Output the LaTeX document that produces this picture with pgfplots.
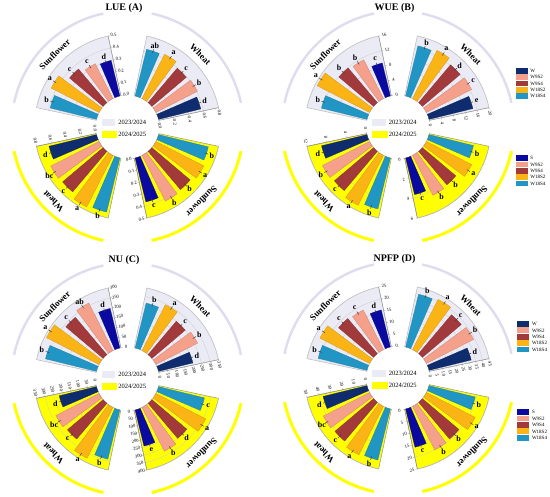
\documentclass[border=0pt]{standalone}
\usepackage{fontspec}
\setmainfont{Liberation Serif}
\usepackage{pgfplots}
\pgfplotsset{compat=1.18}

\definecolor{cW}{HTML}{0E2C6E}
\definecolor{cS}{HTML}{0A0AA0}
\definecolor{c92}{HTML}{F4A08A}
\definecolor{c94}{HTML}{A23A3C}
\definecolor{c182}{HTML}{FBB416}
\definecolor{c184}{HTML}{2196C4}
\definecolor{lav}{HTML}{EBEBF5}
\definecolor{lavarc}{HTML}{DDDDEF}
\definecolor{yel}{HTML}{FFFF00}

\def\Rz{32}\def\Ro{93}\def\Hw{4.8}

\pgfplotsset{panel/.style={hide axis, x=1pt, y=1pt, xmin=-137, xmax=137,
  ymin=-124, ymax=124, anchor=center, clip=false}}

% #1 sector start angle, #2 bar index, #3 value, #4 radial axis max, #5 colour, #6 letter
\newcommand{\Bar}[6]{%
 \addplot[fill=#5, draw=#5!80!black, line width=0.2pt] table[row sep=\\,
   x expr={(\Rz+\thisrow{f}*(#3)/(#4)*(\Ro-\Rz))*cos(#1+6.6+13.2*#2+(\thisrow{t})*\Hw)},
   y expr={(\Rz+\thisrow{f}*(#3)/(#4)*(\Ro-\Rz))*sin(#1+6.6+13.2*#2+(\thisrow{t})*\Hw)}]
   {t f\\ -1 0\\ -1 1\\ -0.5 1\\ 0 1\\ 0.5 1\\ 1 1\\ 1 0\\ 0 0\\} -- cycle;
 \draw[black!75, line width=0.5pt]
   ({(\Rz+(#3)/(#4)*(\Ro-\Rz)-1.8)*cos(#1+6.6+13.2*#2)},{(\Rz+(#3)/(#4)*(\Ro-\Rz)-1.8)*sin(#1+6.6+13.2*#2)})
   -- ({(\Rz+(#3)/(#4)*(\Ro-\Rz)+1.8)*cos(#1+6.6+13.2*#2)},{(\Rz+(#3)/(#4)*(\Ro-\Rz)+1.8)*sin(#1+6.6+13.2*#2)});
 \node[font=\bfseries\fontsize{8}{8}\selectfont, inner sep=0pt]
   at ({(\Rz+(#3)/(#4)*(\Ro-\Rz)+5.8)*cos(#1+6.6+13.2*#2)},{(\Rz+(#3)/(#4)*(\Ro-\Rz)+5.8)*sin(#1+6.6+13.2*#2)}) {#6};
}

\newcommand{\SecBg}[3]{%
 \filldraw[fill=#2, draw=#3, line width=0.5pt] (#1:\Rz) arc[start angle=#1, end angle={#1+66}, radius=\Rz pt]
   -- ({#1+66}:\Ro) arc[start angle={#1+66}, end angle=#1, radius=\Ro pt] -- cycle;}

% #1 start, #2 intervals, #3 label rotation, #4 labels
\newcommand{\SecGrid}[4]{%
 \foreach \lab [count=\k from 0] in {#4} {%
   \pgfmathsetmacro\r{\Rz+\k*(\Ro-\Rz)/#2}%
   \draw[gray!40, line width=0.3pt] (#1:\r) arc[start angle=#1, end angle={#1+66}, radius=\r pt];%
   \draw[gray!80, line width=0.3pt] (#1:\r) -- ++({#1-90}:1.6);%
   \node[font=\fontsize{4.6}{5}\selectfont, rotate=#3, inner sep=0pt] at ([shift={({#1-90}:5.4)}]#1:\r) {\lab};%
 }%
 \draw[gray!85, line width=0.4pt] (#1:\Rz) -- (#1:\Ro);}

\newcommand{\Frame}[1]{%
 \SecBg{102}{lav}{gray!55}
 \SecBg{12}{lav}{gray!55}
 \SecBg{192}{yel}{gray!85}
 \SecBg{282}{yel}{gray!85}
 \draw[lavarc, line width=2.4pt] (102:116) arc[start angle=102, end angle=168, radius=116pt];
 \draw[lavarc, line width=2.4pt] (12:116) arc[start angle=12, end angle=78, radius=116pt];
 \draw[yel, line width=3pt] (192:116) arc[start angle=192, end angle=258, radius=116pt];
 \draw[yel, line width=3pt] (282:116) arc[start angle=282, end angle=348, radius=116pt];
 \node[font=\bfseries\fontsize{9}{10}\selectfont, rotate=45] at (135:103) {Sunflower};
 \node[font=\bfseries\fontsize{9}{10}\selectfont, rotate=-45] at (45:103) {Wheat};
 \node[font=\bfseries\fontsize{9}{10}\selectfont, rotate=135] at (225:105) {Wheat};
 \node[font=\bfseries\fontsize{9}{10}\selectfont, rotate=-135] at (315:105) {Sunflower};
 \fill[lav] (-25.8,0.7) rectangle (-12.5,8.3);
 \node[font=\fontsize{6.5}{7}\selectfont] at (4.7,4.6) {2023/2024};
 \fill[yel] (-25.8,-3.7) rectangle (-10.2,-11);
 \node[font=\fontsize{6.5}{7}\selectfont] at (4.7,-7.4) {2024/2025};
 \node[font=\bfseries\fontsize{10}{12}\selectfont] at (-3.5,119) {#1};
}

% #1 box left x, #2 first row y, #3 spacing, #4 first label, #5 first colour
\newcommand{\Leg}[5]{%
 \foreach \c/\t [count=\i from 0] in {#5/#4, c92/W9S2, c94/W9S4, c182/W18S2, c184/W18S4} {%
   \fill[\c] (#1,{#2-\i*#3-2.9}) rectangle ({#1+12},{#2-\i*#3+2.9});%
   \node[anchor=west, font=\fontsize{5}{5}\selectfont, inner sep=0pt] at ({#1+14.5},{#2-\i*#3}) {\t};%
 }}

\begin{document}
\begin{tikzpicture}[x=1pt,y=1pt]
\useasboundingbox (0,0) rectangle (550,497);
\fill[white] (0,0) rectangle (550,497);

% ---------- Panel A ----------
\begin{scope}[shift={(127.5,370)}]
 \Frame{LUE (A)}
 \SecGrid{102}{5}{12}{0.0,0.1,0.2,0.3,0.4,0.5}
 \SecGrid{12}{4}{-78}{0.0,0.2,0.4,0.6,0.8}
 \SecGrid{192}{4}{-78}{0.0,0.2,0.4,0.6,0.8}
 \SecGrid{282}{5}{12}{0.0,0.1,0.2,0.3,0.4,0.5}
\end{scope}
\begin{axis}[panel, at={(127.5pt,370pt)}]
 \Bar{102}{0}{0.30}{0.5}{cS}{d}
 \Bar{102}{1}{0.32}{0.5}{c92}{c}
 \Bar{102}{2}{0.36}{0.5}{c94}{c}
 \Bar{102}{3}{0.44}{0.5}{c182}{a}
 \Bar{102}{4}{0.39}{0.5}{c184}{b}
 \Bar{12}{0}{0.57}{0.8}{cW}{d}
 \Bar{12}{1}{0.61}{0.8}{c92}{b}
 \Bar{12}{2}{0.59}{0.8}{c94}{c}
 \Bar{12}{3}{0.65}{0.8}{c182}{a}
 \Bar{12}{4}{0.63}{0.8}{c184}{ab}
 \Bar{192}{0}{0.64}{0.8}{cW}{d}
 \Bar{192}{1}{0.71}{0.8}{c92}{bc}
 \Bar{192}{2}{0.695}{0.8}{c94}{c}
 \Bar{192}{3}{0.757}{0.8}{c182}{a}
 \Bar{192}{4}{0.73}{0.8}{c184}{b}
 \Bar{282}{0}{0.37}{0.5}{cS}{c}
 \Bar{282}{1}{0.42}{0.5}{c92}{b}
 \Bar{282}{2}{0.41}{0.5}{c94}{b}
 \Bar{282}{3}{0.44}{0.5}{c182}{a}
 \Bar{282}{4}{0.42}{0.5}{c184}{b}
\end{axis}

% ---------- Panel B ----------
\begin{scope}[shift={(398,370)}]
 \Frame{WUE (B)}
 \SecGrid{102}{4}{12}{0,4,8,12,16}
 \SecGrid{12}{5}{-78}{0,4,8,12,16,20}
 \SecGrid{192}{3}{-78}{0,4,8,12}
 \SecGrid{282}{3}{12}{0,2,4,6}
 \Leg{117.7}{56}{6.3}{W}{cW}
 \Leg{117.7}{-31.3}{6.3}{S}{cS}
\end{scope}
\begin{axis}[panel, at={(398pt,370pt)}]
 \Bar{102}{0}{8.9}{16}{cS}{c}
 \Bar{102}{1}{11.4}{16}{c92}{b}
 \Bar{102}{2}{11.9}{16}{c94}{b}
 \Bar{102}{3}{15.4}{16}{c182}{a}
 \Bar{102}{4}{12.3}{16}{c184}{b}
 \Bar{12}{0}{14.8}{20}{cW}{e}
 \Bar{12}{1}{16.6}{20}{c92}{c}
 \Bar{12}{2}{16.2}{20}{c94}{d}
 \Bar{12}{3}{17.7}{20}{c182}{a}
 \Bar{12}{4}{16.9}{20}{c184}{b}
 \Bar{192}{0}{9.2}{12}{cW}{d}
 \Bar{192}{1}{10.4}{12}{c92}{b}
 \Bar{192}{2}{10.1}{12}{c94}{c}
 \Bar{192}{3}{11.0}{12}{c182}{a}
 \Bar{192}{4}{10.3}{12}{c184}{b}
 \Bar{282}{0}{3.7}{6}{cS}{c}
 \Bar{282}{1}{4.4}{6}{c92}{b}
 \Bar{282}{2}{4.3}{6}{c94}{b}
 \Bar{282}{3}{5.0}{6}{c182}{a}
 \Bar{282}{4}{4.5}{6}{c184}{b}
\end{axis}

% ---------- Panel C ----------
\begin{scope}[shift={(127.5,118)}]
 \Frame{NU (C)}
 \SecGrid{102}{6}{12}{0,50,100,150,200,250,300}
 \SecGrid{12}{7}{-78}{0,50,100,150,200,250,300,350}
 \SecGrid{192}{7}{-78}{0,50,100,150,200,250,300,350}
 \SecGrid{282}{8}{12}{0,50,100,150,200,250,300,350,400}
\end{scope}
\begin{axis}[panel, at={(127.5pt,118pt)}]
 \Bar{102}{0}{200}{300}{cS}{d}
 \Bar{102}{1}{262}{300}{c92}{ab}
 \Bar{102}{2}{240}{300}{c94}{c}
 \Bar{102}{3}{290}{300}{c182}{a}
 \Bar{102}{4}{258}{300}{c184}{b}
 \Bar{12}{0}{203}{350}{cW}{d}
 \Bar{12}{1}{268}{350}{c92}{b}
 \Bar{12}{2}{250}{350}{c94}{c}
 \Bar{12}{3}{295}{350}{c182}{a}
 \Bar{12}{4}{265}{350}{c184}{b}
 \Bar{192}{0}{220}{350}{cW}{d}
 \Bar{192}{1}{278}{350}{c92}{bc}
 \Bar{192}{2}{268}{350}{c94}{c}
 \Bar{192}{3}{327}{350}{c182}{a}
 \Bar{192}{4}{290}{350}{c184}{b}
 \Bar{282}{0}{243}{400}{cS}{e}
 \Bar{282}{1}{322}{400}{c92}{b}
 \Bar{282}{2}{300}{400}{c94}{d}
 \Bar{282}{3}{366}{400}{c182}{a}
 \Bar{282}{4}{310}{400}{c184}{c}
\end{axis}

% ---------- Panel D ----------
\begin{scope}[shift={(398,119)}]
 \Frame{NPFP (D)}
 \SecGrid{102}{5}{12}{0,5,10,15,20,25}
 \SecGrid{12}{9}{-78}{0,5,10,15,20,25,30,35,40,45}
 \SecGrid{192}{5}{-78}{0,10,20,30,40,50}
 \SecGrid{282}{5}{12}{0,5,10,15,20,25}
 \Leg{119.3}{54}{6.4}{W}{cW}
 \Leg{119.3}{-34.2}{6.4}{S}{cS}
\end{scope}
\begin{axis}[panel, at={(398pt,119pt)}]
 \Bar{102}{0}{15.6}{25}{cS}{d}
 \Bar{102}{1}{18.2}{25}{c92}{c}
 \Bar{102}{2}{18.8}{25}{c94}{c}
 \Bar{102}{3}{22.8}{25}{c182}{a}
 \Bar{102}{4}{20.6}{25}{c184}{b}
 \Bar{12}{0}{32}{45}{cW}{d}
 \Bar{12}{1}{39}{45}{c92}{b}
 \Bar{12}{2}{37.5}{45}{c94}{c}
 \Bar{12}{3}{41.5}{45}{c182}{a}
 \Bar{12}{4}{40}{45}{c184}{b}
 \Bar{192}{0}{37}{50}{cW}{d}
 \Bar{192}{1}{42.5}{50}{c92}{bc}
 \Bar{192}{2}{41.5}{50}{c94}{c}
 \Bar{192}{3}{44.5}{50}{c182}{a}
 \Bar{192}{4}{43}{50}{c184}{b}
 \Bar{282}{0}{16.1}{25}{cS}{c}
 \Bar{282}{1}{20}{25}{c92}{b}
 \Bar{282}{2}{19.6}{25}{c94}{b}
 \Bar{282}{3}{22.4}{25}{c182}{a}
 \Bar{282}{4}{19.5}{25}{c184}{b}
\end{axis}
\end{tikzpicture}
\end{document}
